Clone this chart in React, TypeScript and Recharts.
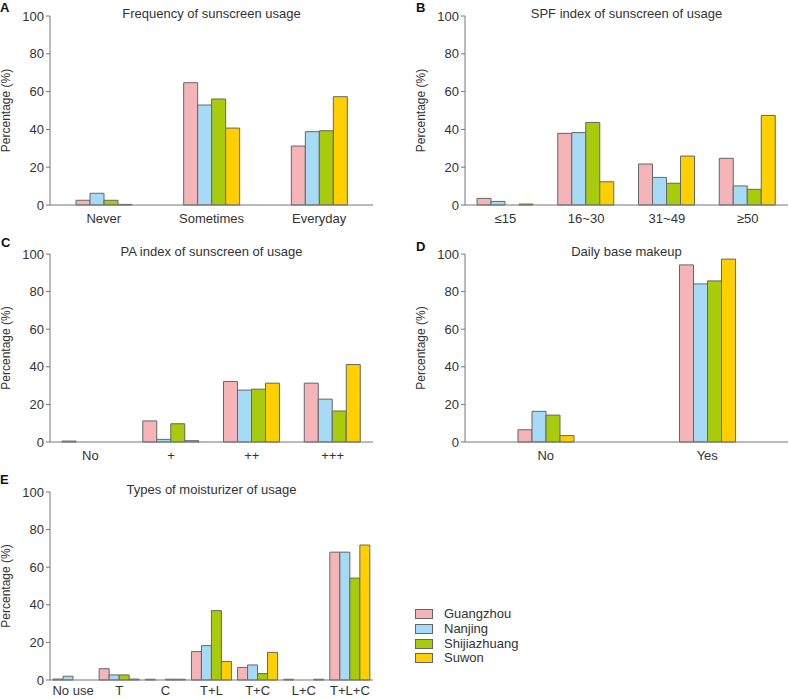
import React from 'react';
import { BarChart, Bar, XAxis, YAxis } from 'recharts';

const cities = ['Guangzhou', 'Nanjing', 'Shijiazhuang', 'Suwon'];
const cityColors = ['#f5b4b8', '#a7daf5', '#a8cb0c', '#ffcf00'];

// A - frequency of sunscreen usage
const freqCats = ['Never', 'Sometimes', 'Everyday'];
const freqGuangzhou = [2.5, 64.7, 31.2];
const freqNanjing = [6.2, 52.9, 38.8];
const freqShijiazhuang = [2.5, 56.1, 39.3];
const freqSuwon = [0.3, 40.7, 57.3];

// B - SPF index
const spfCats = ['≤15', '16~30', '31~49', '≥50'];
const spfGuangzhou = [3.5, 37.9, 21.7, 24.7];
const spfNanjing = [1.9, 38.3, 14.6, 10.1];
const spfShijiazhuang = [0, 43.7, 11.5, 8.3];
const spfSuwon = [0.5, 12.3, 25.9, 47.4];

// C - PA index
const paCats = ['No', '+', '++', '+++'];
const paGuangzhou = [0.5, 11.2, 32.2, 31.3];
const paNanjing = [0, 1.4, 27.6, 22.8];
const paShijiazhuang = [0, 9.7, 28.1, 16.5];
const paSuwon = [0, 0.7, 31.3, 41.2];

// D - daily base makeup
const makeupCats = ['No', 'Yes'];
const makeupGuangzhou = [6.5, 94.2];
const makeupNanjing = [16.3, 84.1];
const makeupShijiazhuang = [14.3, 85.7];
const makeupSuwon = [3.4, 97.3];

// E - moisturizer types
const moistCats = ['No use', 'T', 'C', 'T+L', 'T+C', 'L+C', 'T+L+C'];
const moistGuangzhou = [0.5, 6.0, 0.4, 15.1, 6.7, 0.4, 68.0];
const moistNanjing = [2.0, 2.7, 0, 18.3, 8.0, 0, 68.0];
const moistShijiazhuang = [0, 2.7, 0.4, 36.9, 3.4, 0, 54.2];
const moistSuwon = [0, 0.5, 0.4, 9.8, 14.7, 0.4, 71.8];

const yTicks = [0, 20, 40, 60, 80, 100];

function makeRows(cats: string[], values: number[][]) {
  return cats.map((name, i) => {
    const row: Record<string, string | number> = { name };
    cities.forEach((c, j) => {
      row[c] = values[j][i];
    });
    return row;
  });
}

const AXIS = '#777';
const TEXT = '#333';
const PLOT_W = 323;

interface PanelProps {
  letter: string;
  title: string;
  rows: Record<string, string | number>[];
  left: number;
  top: number;
  height: number;
  barSize: number;
  letterX: number;
  letterY: number;
  labelGap?: number;
}

function Panel({ letter, title, rows, left, top, height, barSize, letterX, letterY, labelGap = 2 }: PanelProps) {
  const n = rows.length;
  const edgeTicks = Array.from({ length: n }, (_, i) => i + 1);
  const width = 50 + PLOT_W + 2;
  return (
    <>
      <div style={{ position: 'absolute', left: letterX, top: letterY, fontWeight: 'bold', fontSize: 13, lineHeight: '13px', color: '#111' }}>
        {letter}
      </div>
      <div style={{ position: 'absolute', left, top, width, height }}>
        <BarChart width={width} height={height} data={rows} margin={{ top: 16, right: 2, bottom: 0, left: 0 }} barGap={0} barSize={barSize}>
          {/* category labels only; boundary ticks come from the numeric axis */}
          <XAxis
            xAxisId="b"
            dataKey="name"
            type="category"
            axisLine={false}
            tickLine={false}
            height={24}
            tickSize={6}
            tickMargin={labelGap}
            interval={0}
            tick={{ fontSize: 13, fill: TEXT }}
          />
          <XAxis xAxisId="a" type="number" domain={[0, n]} ticks={edgeTicks} tick={false} height={1} stroke={AXIS} tickSize={4} />
          <YAxis
            domain={[0, 100]}
            ticks={yTicks}
            width={50}
            stroke={AXIS}
            tickSize={4}
            tickMargin={2}
            tick={{ fontSize: 13, fill: TEXT }}
            label={{ value: 'Percentage (%)', angle: -90, position: 'insideLeft', offset: 6, style: { textAnchor: 'middle', fontSize: 12, fill: TEXT } }}
          />
          {cities.map((c, i) => (
            <Bar key={c} xAxisId="b" dataKey={c} fill={cityColors[i]} stroke="#666" strokeWidth={1} isAnimationActive={false} />
          ))}
        </BarChart>
        <div style={{ position: 'absolute', left: 50, top: 6, width: PLOT_W, textAlign: 'center', fontSize: 13, lineHeight: '15px', color: TEXT }}>
          {title}
        </div>
      </div>
    </>
  );
}

export default function App() {
  return (
    <div style={{ position: 'absolute', left: 0, top: 0, width: 789, height: 699, background: '#fff', overflow: 'hidden', fontFamily: '"Liberation Sans", Arial, sans-serif' }}>
      <Panel letter="A" title="Frequency of sunscreen usage" left={0} top={0} height={230} barSize={14} letterX={0} letterY={1}
        rows={makeRows(freqCats, [freqGuangzhou, freqNanjing, freqShijiazhuang, freqSuwon])} />
      <Panel letter="B" title="SPF index of sunscreen of usage" left={415} top={0} height={230} barSize={14} letterX={416} letterY={1}
        rows={makeRows(spfCats, [spfGuangzhou, spfNanjing, spfShijiazhuang, spfSuwon])} />
      <Panel letter="C" title="PA index of sunscreen of usage" left={0} top={238} height={229} barSize={14} letterX={1} letterY={236}
        rows={makeRows(paCats, [paGuangzhou, paNanjing, paShijiazhuang, paSuwon])} />
      <Panel letter="D" title="Daily base makeup" left={415} top={238} height={229} barSize={14} letterX={416} letterY={240}
        rows={makeRows(makeupCats, [makeupGuangzhou, makeupNanjing, makeupShijiazhuang, makeupSuwon])} />
      <Panel letter="E" title="Types of moisturizer of usage" left={0} top={476} height={229} barSize={10} letterX={0} letterY={473} labelGap={-1}
        rows={makeRows(moistCats, [moistGuangzhou, moistNanjing, moistShijiazhuang, moistSuwon])} />
      <div style={{ position: 'absolute', left: 415, top: 607 }}>
        {cities.map((c, i) => (
          <div key={c} style={{ display: 'flex', alignItems: 'center', height: 14.7 }}>
            <div style={{ width: 18, height: 10, boxSizing: 'border-box', border: '1px solid #666', background: cityColors[i] }} />
            <span style={{ marginLeft: 11, fontSize: 13, lineHeight: '14px', color: TEXT }}>{c}</span>
          </div>
        ))}
      </div>
    </div>
  );
}
